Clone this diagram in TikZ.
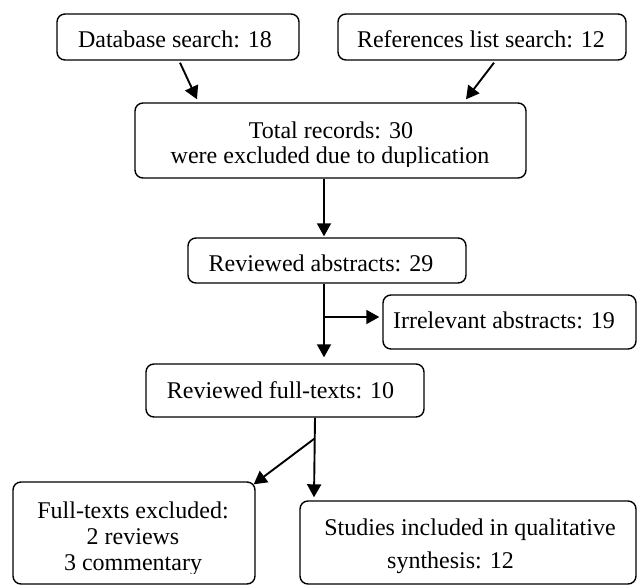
\documentclass[tikz,border=0pt]{standalone}
\usepackage{fontspec}
\setmainfont{Liberation Serif}
\usetikzlibrary{arrows.meta}
\begin{document}
\begin{tikzpicture}[x=1pt,y=-1pt,
  box/.style={draw=black, line width=1.4pt, rounded corners=8pt, inner sep=0pt, rectangle},
  txt/.style={inner sep=0pt, anchor=base, font=\fontsize{24}{28}\selectfont},
  arr/.style={line width=1.9pt, -{Triangle[length=13pt,width=14pt]}}]
\useasboundingbox (0,0) rectangle (637,585);
% boxes
\node[box, minimum width=242pt, minimum height=46pt] (db) at (178,37) {};
\node[box, minimum width=288pt, minimum height=46pt] (ref) at (482,37) {};
\node[box, minimum width=391pt, minimum height=75pt] (tot) at (330.5,140.5) {};
\node[box, minimum width=278pt, minimum height=45pt] (abs) at (327,260.5) {};
\node[box, minimum width=253pt, minimum height=54pt] (irr) at (509.5,322) {};
\node[box, minimum width=278pt, minimum height=53pt] (full) at (285,390.5) {};
\node[box, minimum width=242pt, minimum height=102pt] (exc) at (134,533) {};
\node[box, minimum width=336pt, minimum height=83pt] (stud) at (468,542.5) {};
% texts
\node[txt] (dbt) at (175,48) {Database search: 18};
\node[txt] (reft) at (481,48) {References list search: 12};
\node[txt] (tott) at (331,139) {Total records: 30};
\begin{scope}
\clip (140,145) rectangle (520,166.5);
\node[txt] (totu) at (330,164) {were excluded due to duplication};
\end{scope}
\node[txt] (abst) at (321,272) {Reviewed abstracts: 29};
\node[txt] (irrt) at (504,328) {Irrelevant abstracts: 19};
\node[txt] (fullt) at (280.5,398) {Reviewed full-texts: 10};
\node[txt] (exca) at (133,518) {Full-texts excluded:};
\node[txt] (excb) at (133,544) {2 reviews};
\begin{scope}
\clip (20,550) rectangle (250,573.5);
\node[txt] (excc) at (133,570) {3 commentary};
\end{scope}
\node[txt] (studa) at (470,535) {Studies included in qualitative};
\node[txt, anchor=base west] (studb) at (387,568) {synthesis: 12};
% connectors
\draw[arr] ([xshift=2pt,yshift=-2pt]db.south) -- ([xshift=-133.5pt,yshift=3pt]tot.north);
\draw[arr] ([xshift=12pt,yshift=-2pt]ref.south) -- ([xshift=135.5pt,yshift=3pt]tot.north);
\draw[arr] ([xshift=-6.5pt]tot.south) -- ([xshift=-3pt,yshift=1pt]abs.north);
\draw[arr] ([xshift=-3pt]abs.south) -- coordinate[pos=0.453] (b1) ([xshift=39pt,yshift=6pt]full.north);
\draw[arr] (b1) -- ([xshift=-3pt,yshift=5pt]irr.west);
\draw[arr] ([xshift=30pt]full.south) -- coordinate[pos=0.26] (b2) ([xshift=-154pt,yshift=3pt]stud.north);
\draw[arr] (b2) -- ([xshift=-2pt,yshift=-3pt]exc.north east);
\end{tikzpicture}
\end{document}
